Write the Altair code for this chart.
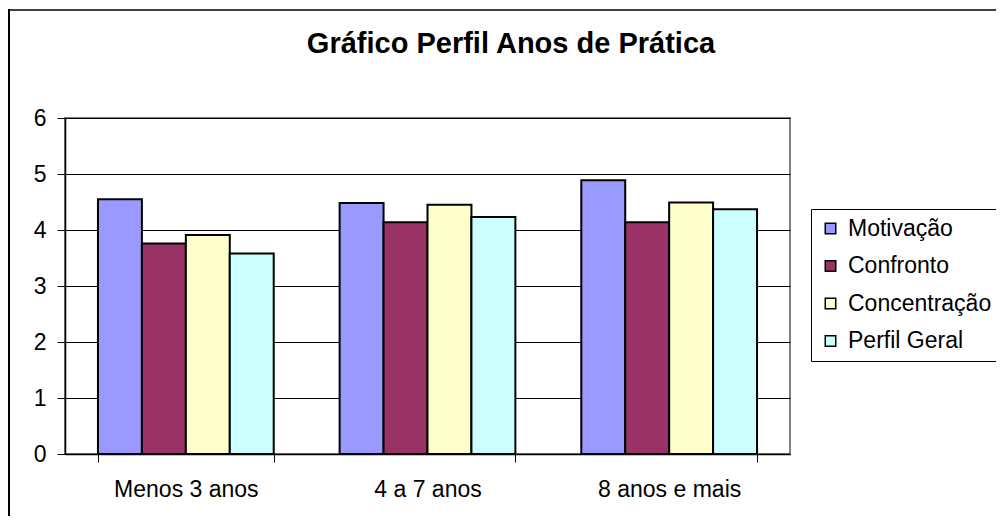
import altair as alt
import pandas as pd

categories = ["Menos 3 anos", "4 a 7 anos", "8 anos e mais"]
series = ["Motivação", "Confronto", "Concentração", "Perfil Geral"]
motivacao = [4.55, 4.48, 4.89]
confronto = [3.76, 4.14, 4.14]
concentracao = [3.91, 4.45, 4.49]
perfil_geral = [3.58, 4.23, 4.37]
colors = ["#9999FF", "#993366", "#FFFFCC", "#CCFFFF"]
title_text = ["Gráfico Perfil Anos de Prática"]

values = [motivacao, confronto, concentracao, perfil_geral]
rows = []
for s, vals in zip(series, values):
    for c, v in zip(categories, vals):
        rows.append({"Ano": c, "Serie": s, "Valor": v})
df = pd.DataFrame(rows)

FONT = "Liberation Sans"

bars = alt.Chart(df).mark_bar(stroke="black", strokeWidth=2).encode(
    x=alt.X("Ano:N", sort=categories,
            scale=alt.Scale(paddingInner=0.2727, paddingOuter=0.1364),
            axis=alt.Axis(title=None, labelAngle=0, tickBand="extent",
                          domainColor="black", tickColor="black", tickSize=8,
                          labelFont=FONT, labelFontSize=23, labelColor="black",
                          labelPadding=16, domainWidth=1.5)),
    xOffset=alt.XOffset("Serie:N", sort=series,
                        scale=alt.Scale(paddingInner=0, paddingOuter=0)),
    y=alt.Y("Valor:Q", scale=alt.Scale(domain=[0, 6]),
            axis=alt.Axis(title=None, values=[0, 1, 2, 3, 4, 5, 6],
                          grid=True, gridColor="black", gridWidth=1,
                          domainColor="black", tickColor="black", tickSize=8,
                          labelFont=FONT, labelFontSize=23, labelColor="black",
                          labelPadding=11, domainWidth=1.5)),
    color=alt.Color("Serie:N", sort=series,
                    scale=alt.Scale(domain=series, range=colors),
                    legend=alt.Legend(title=None, orient="none",
                                      legendX=746, legendY=91,
                                      symbolType="square", symbolSize=110,
                                      symbolStrokeColor="black", symbolStrokeWidth=1.5,
                                      labelFont=FONT, labelFontSize=23,
                                      labelColor="black", rowPadding=13.5,
                                      labelOffset=6, padding=8,
                                      strokeColor="black", fillColor="white")),
)

title = alt.Chart(pd.DataFrame({"t": title_text})).mark_text(
    font=FONT, fontSize=29, fontWeight="bold", color="black",
    align="center", baseline="alphabetic"
).encode(x=alt.value(446), y=alt.value(-65), text="t:N")

border_df = pd.DataFrame({"a": [0]})
border_top = alt.Chart(border_df).mark_rule(color="#404040", strokeWidth=2, clip=False).encode(
    x=alt.value(-57), x2=alt.value(960), y=alt.value(-108)
)
border_left = alt.Chart(border_df).mark_rule(color="black", strokeWidth=2, clip=False).encode(
    x=alt.value(-56), y=alt.value(-109), y2=alt.value(460)
)

chart = alt.layer(border_top, border_left, bars, title).properties(
    width=725, height=336,
    autosize=alt.AutoSizeParams(type="none"),
    padding={"left": 57, "top": 110, "right": 206, "bottom": 62},
).configure_view(stroke="#808080", strokeWidth=2)

chart.save("out.html", embed_options={"renderer": "svg", "actions": False})
